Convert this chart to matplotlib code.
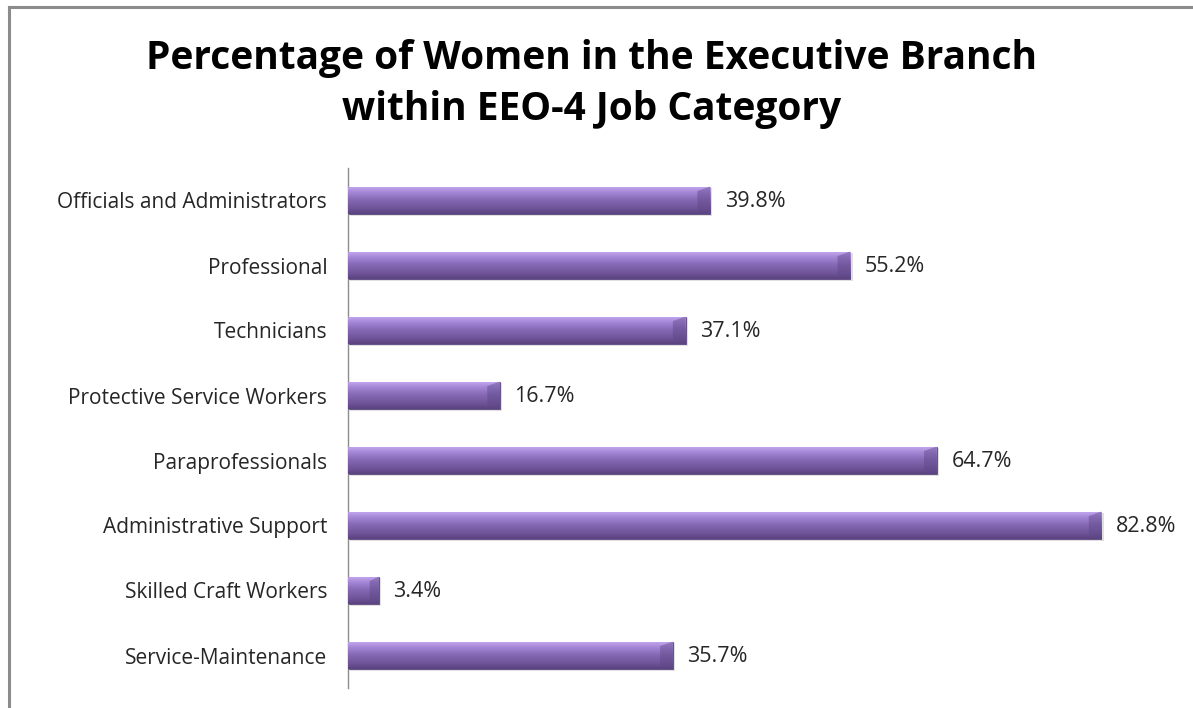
import matplotlib
matplotlib.use("Agg")
import matplotlib.pyplot as plt
import numpy as np
from matplotlib.colors import LinearSegmentedColormap
from matplotlib.lines import Line2D

categories = ["Officials and Administrators", "Professional", "Technicians",
              "Protective Service Workers", "Paraprofessionals",
              "Administrative Support", "Skilled Craft Workers",
              "Service-Maintenance"]
values = [39.8, 55.2, 37.1, 16.7, 64.7, 82.8, 3.4, 35.7]
title = "Percentage of Women in the Executive Branch\nwithin EEO-4 Job Category"

W, H = 1193, 708
fig = plt.figure(figsize=(W / 100, H / 100), dpi=100)
fig.patch.set_facecolor("white")

# outer border (top & left visible)
fig.add_artist(Line2D([9 / W, 9 / W], [0, 1 - 7 / H], color="#8c8c8c", lw=2.2))
fig.add_artist(Line2D([9 / W, 1], [1 - 7 / H, 1 - 7 / H], color="#8c8c8c", lw=2.2))

ax = fig.add_axes([348 / W, 1 - 688 / H, (1167 - 348) / W, (688 - 168) / H])
n = len(categories)
y = np.arange(n)
ax.set_xlim(0, 90)
ax.set_ylim(n - 0.5, -0.5)

cmap = LinearSegmentedColormap.from_list(
    "bar", [(0.0, "#c6a9f0"), (0.22, "#a486d6"), (0.5, "#8468b3"),
            (0.8, "#6f5499"), (1.0, "#5a437f")])
grad = np.linspace(0, 1, 64).reshape(-1, 1)
bh = 0.43
for yi, v in zip(y, values):
    # shadow
    ax.barh(yi + 0.03, v, height=bh, left=0.25, color="#000000", alpha=0.12,
            edgecolor="none", zorder=1)
    b = ax.barh(yi, v, height=bh, color="#8064a2", edgecolor="#5b4580",
                linewidth=0.6, zorder=2)[0]
    im = ax.imshow(grad, cmap=cmap, aspect="auto",
                   extent=(0, v, yi + bh / 2, yi - bh / 2), zorder=3,
                   interpolation="bicubic")
    im.set_clip_path(b)
    # bevel at the end
    ex = min(1.4, v * 0.3)
    ax.fill([v - ex, v, v, v - ex], [yi - bh / 2 + 0.07, yi - bh / 2, yi + bh / 2, yi + bh / 2 - 0.07],
            color="#5d4786", alpha=0.45, zorder=4, lw=0)
    ax.text(v + 1.6, yi + 0.02, f"{v:.1f}%", va="center", ha="left",
            fontsize=15.5, family="Open Sans", color="#262626")

ax.set_xlim(0, 90)
ax.set_ylim(n - 0.5, -0.5)
ax.set_yticks(y)
ax.set_yticklabels(categories, fontsize=15, family="Open Sans", color="#262626")
ax.tick_params(axis="y", length=0, pad=15)
ax.set_xticks([])
for s in ["top", "right", "bottom"]:
    ax.spines[s].set_visible(False)
ax.spines["left"].set_color("#8c8c8c")
ax.spines["left"].set_linewidth(1.0)

fig.text(592 / W, 1 - 84 / H, title, ha="center", va="center", fontsize=28,
         fontweight="bold", family="Open Sans", linespacing=1.42, color="black")

fig.savefig("out.png", dpi=100)
